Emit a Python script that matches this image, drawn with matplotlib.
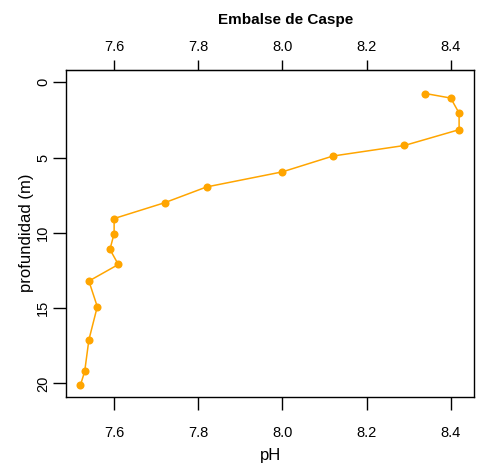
import matplotlib
matplotlib.use("Agg")
import matplotlib.pyplot as plt

plt.rcParams['font.family'] = ['Liberation Sans', 'DejaVu Sans']

# ------------------------------------------
# Data: pH profile, Embalse de Caspe
# ------------------------------------------
ph = [8.34, 8.40, 8.42, 8.42, 8.29, 8.12, 8.00, 7.82, 7.72,
      7.60, 7.60, 7.59, 7.61, 7.54, 7.56, 7.54, 7.53, 7.52]
depth = [0.75, 1.05, 2.05, 3.15, 4.2, 4.9, 5.95, 6.95, 8.0,
         9.05, 10.05, 11.1, 12.1, 13.2, 14.9, 17.1, 19.2, 20.1]

xticks = [7.6, 7.8, 8.0, 8.2, 8.4]
yticks = [0, 5, 10, 15, 20]
xlabels = ["%.1f" % v for v in xticks]

# ------------------------------------------
# Plot
# ------------------------------------------
fig = plt.figure(figsize=(4.83, 4.71), dpi=100)
ax = fig.add_axes([0.137, 0.158, 0.844, 0.693])

ax.plot(ph, depth, color="#FFA500", lw=1.1, marker="o", ms=5.8,
        markeredgewidth=0)

ax.set_xlim(7.486, 8.455)
ax.set_ylim(20.87, -0.8)

ax.set_xticks(xticks)
ax.set_xticklabels(xlabels)
ax.set_yticks(yticks)
ax.set_yticklabels([str(v) for v in yticks], rotation=90, va="center")

ax.tick_params(axis="x", direction="out", length=9.2, width=1.0,
               labelsize=10.5, pad=12)
ax.tick_params(axis="y", direction="out", length=9.6, width=1.0,
               labelsize=10.5, pad=2)

# top axis (same ticks, shorter)
top = ax.secondary_xaxis("top")
top.set_xticks(xticks)
top.set_xticklabels(xlabels)
top.tick_params(direction="out", length=7, width=1.0, labelsize=10.5, pad=4.5)

for s in ax.spines.values():
    s.set_linewidth(1.0)

fig.text(0.5605, 0.032, "pH", ha="center", va="center", fontsize=12)
fig.text(0.054, 0.505, "profundidad (m)", ha="center", va="center",
         rotation=90, fontsize=12)
fig.text(0.591, 0.957, "Embalse de Caspe", ha="center", va="center",
         fontsize=11, fontweight="bold")

fig.savefig("out.png", dpi=100)
